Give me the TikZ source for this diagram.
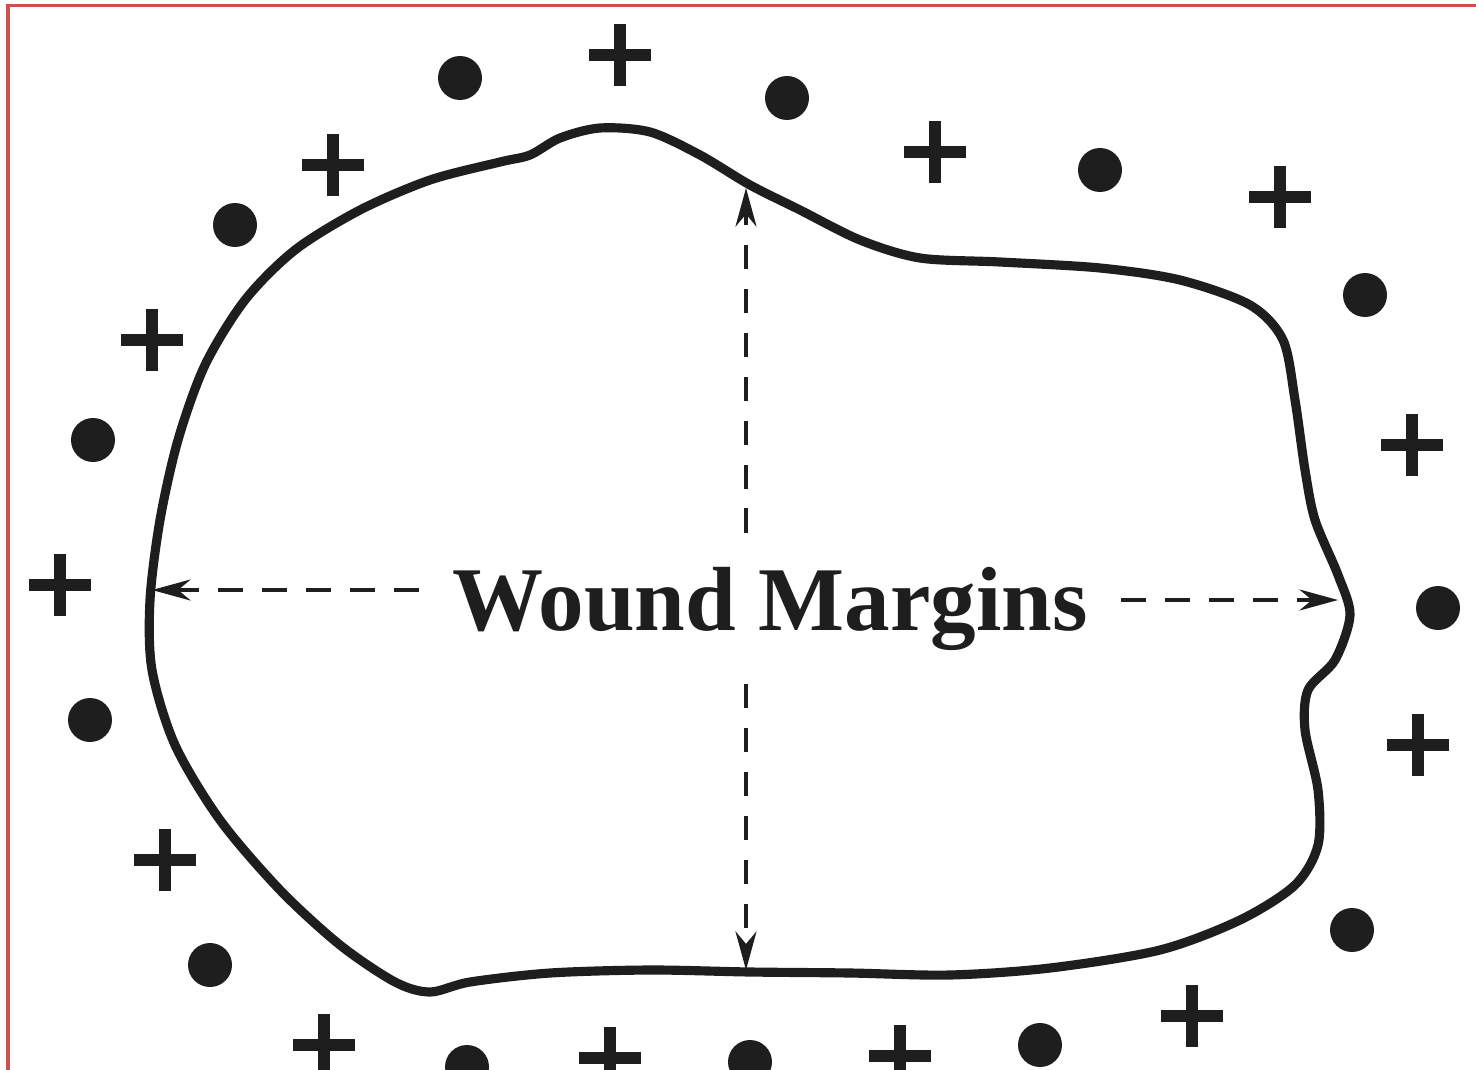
\documentclass[tikz,border=0pt]{standalone}
\usepackage{fontspec}
\setmainfont{Liberation Serif}
\usepackage{xcolor}
\usetikzlibrary{arrows.meta, positioning, calc}
\definecolor{framered}{RGB}{205, 80, 75}
\definecolor{inkblack}{RGB}{30, 30, 30}

\begin{document}
\begin{tikzpicture}[x=0.01cm, y=-0.01cm,
    outline/.style={line width=2.6pt, draw=inkblack, line join=round},
    marginarrow/.style={line width=0.9pt, draw=inkblack, dash pattern=on 7pt off 5.5pt,
        -{Stealth[length=11pt, width=6pt]}},
    plussym/.style={line width=3.2pt, draw=inkblack},
    dotsym/.style={fill=inkblack}]
\clip (0,0) rectangle (1476,1070);
\fill[white] (0,0) rectangle (1476,1070);

% Frame
\draw[framered, line width=0.03cm] (8,1070) -- (8,6) -- (1476,6);

% Wound outline
\draw[outline] plot[smooth cycle, tension=0.5] coordinates {
    (600,128) (650,132) (700,155) (750,185) (800,210) (860,240) (920,258)
    (1000,262) (1100,268) (1180,280) (1250,305) (1283,340) (1295,400)
    (1305,470) (1315,520) (1338,575) (1350,615) (1335,660) (1308,690)
    (1305,730) (1318,790) (1318,845) (1295,885) (1240,920) (1160,950)
    (1050,968) (950,975) (850,973) (750,972) (650,970) (550,973) (470,982)
    (430,992) (395,982) (340,945) (280,890) (220,820) (175,745) (152,670)
    (150,600) (160,520) (178,440) (205,365) (245,300) (295,250) (360,210)
    (430,180) (500,162) (530,155) (560,138)};

% Label and margin arrows
\node[font=\bfseries\fontsize{25.9}{30}\selectfont, text=inkblack, inner sep=0.33cm,
    anchor=base] (label) at (770,630) {Wound Margins};
\coordinate (lm) at (152,590);
\coordinate (rm) at (1338,600);
\coordinate (tm) at (746,188);
\coordinate (bm) at (746,970);

\draw[marginarrow] (label.west |- lm) -- (lm);
\draw[marginarrow] (label.east |- rm) -- (rm);
\draw[marginarrow] (label.north -| tm) -- (tm);
\draw[marginarrow] (label.south -| bm) -- (bm);

% Plus signs around the wound
\foreach \x/\y in {620/55, 935/152, 1280/197, 1412/445, 1418/745, 1192/1016,
    900/1056, 610/1058, 324/1045, 165/860, 60/585, 152/340, 333/165} {
    \draw[plussym] (\x-31,\y) -- (\x+31,\y) (\x,\y-31) -- (\x,\y+31);
}

% Dots around the wound
\foreach \x/\y in {460/78, 787/98, 1100/170, 1365/295, 1438/608, 1352/930,
    1040/1045, 750/1062, 467/1067, 210/965, 90/720, 93/440, 235/225} {
    \fill[dotsym] (\x,\y) circle[radius=22];
}
\end{tikzpicture}
\end{document}
